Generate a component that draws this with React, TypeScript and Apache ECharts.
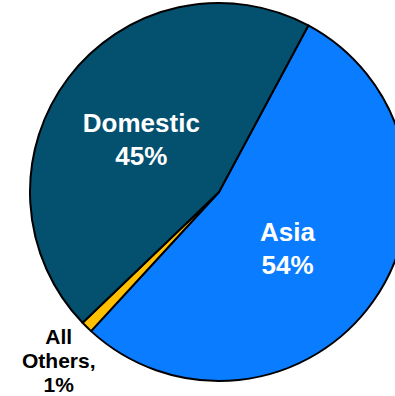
import React, { useEffect, useRef } from "react";
import * as echarts from "echarts";

const categories = ["Asia", "All Others", "Domestic"];
const labels = ["Asia\n54%", "All\nOthers,\n1%", "Domestic\n45%"];
const values = [54, 1, 45];
const colors = ["#0A7CFF", "#FFC000", "#03506F"];

export default function App() {
  const ref = useRef<HTMLDivElement>(null);
  useEffect(() => {
    const chart = echarts.init(ref.current!, undefined, { renderer: "svg" });
    const font = "Liberation Sans, Arial, sans-serif";
    chart.setOption({
      animation: false,
      series: [
        {
          type: "pie",
          center: [219, 192],
          radius: 189,
          startAngle: 61.8,
          clockwise: true,
          avoidLabelOverlap: false,
          itemStyle: { borderColor: "#000", borderWidth: 2 },
          labelLine: { show: false },
          data: categories.map((c, i) => {
            const base: any = {
              name: c,
              value: values[i],
              itemStyle: { color: colors[i] },
            };
            if (i === 1) {
              base.label = {
                show: true,
                position: "inside",
                formatter: labels[i],
                color: "#000",
                fontSize: 21,
                fontWeight: "bold",
                fontFamily: font,
                lineHeight: 24,
                align: "center",
                offset: [-92, 99],
              };
            } else {
              base.label = {
                show: true,
                position: "inside",
                formatter: labels[i],
                color: "#fff",
                fontSize: 26,
                fontWeight: "bold",
                fontFamily: font,
                lineHeight: 33,
                align: "center",
                offset: i === 0 ? [-11, 0] : [0, 6],
              };
            }
            return base;
          }),
        },
      ],
    });
    return () => chart.dispose();
  }, []);
  return (
    <div
      ref={ref}
      style={{ position: "fixed", left: 0, top: 0, width: 395, height: 396, background: "#fff" }}
    />
  );
}
